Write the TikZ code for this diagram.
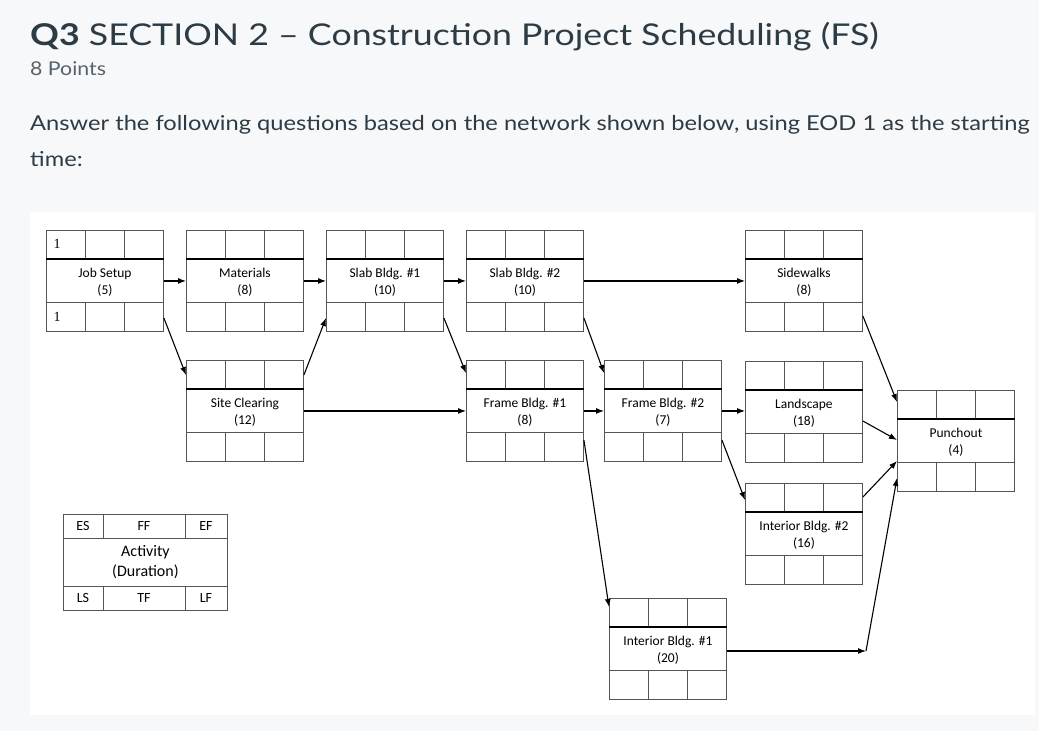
\documentclass[tikz,border=0pt]{standalone}
\usepackage{fontspec}
\setmainfont{Lato}
\newfontfamily\carl{Carlito}
\newfontfamily\tmsf{Liberation Serif}
\usetikzlibrary{calc,arrows.meta}
\definecolor{hdr}{HTML}{2D3B45}
\definecolor{bgc}{HTML}{F7F8FA}
\definecolor{cellc}{HTML}{555555}
\tikzset{
 act/.style={draw=cellc,line width=0.9pt,minimum width=117pt,minimum height=101pt,anchor=north west,inner sep=0pt,align=center,font=\carl\fontsize{13.5}{17}\selectfont,text depth=0pt},
 arr/.style={-{Latex[length=8pt,width=6pt]},line width=1.1pt,black},
}
\newcommand\act[5]{%
 \node[act] (#1) at (#2,#3) {#4\\(#5)};
 \draw[cellc,line width=0.9pt] ($(#1.north west)+(0,29)$) -- ($(#1.north east)+(0,29)$)
   ($(#1.north west)+(0,72)$) -- ($(#1.north east)+(0,72)$)
   ($(#1.north west)+(39,0)$) -- ($(#1.north west)+(39,29)$)
   ($(#1.north west)+(78,0)$) -- ($(#1.north west)+(78,29)$)
   ($(#1.north west)+(39,72)$) -- ($(#1.north west)+(39,101)$)
   ($(#1.north west)+(78,72)$) -- ($(#1.north west)+(78,101)$);
 \draw[black,line width=1.1pt] ($(#1.north west)+(0,29)$) -- ($(#1.north east)+(0,29)$);
}
\begin{document}
\begin{tikzpicture}[x=1pt,y=-1pt]
\fill[bgc] (0,0) rectangle (1039,731);
\useasboundingbox (0,0) rectangle (1039,731);
\fill[white] (30,212) rectangle (1035,715);
\node[anchor=base west,inner sep=0pt,text=hdr,font=\fontsize{30}{36}\selectfont] (title) at (30,45) {\scalebox{1.19}[1]{\textbf{Q3} SECTION 2 -- Construction Project Scheduling (FS)}};
\node[anchor=base west,inner sep=0pt,text=hdr!80,font=\fontsize{19}{22}\selectfont] (pts) at (30,75) {\scalebox{1.12}[1]{8 Points}};
\node[anchor=base west,inner sep=0pt,text=hdr,font=\fontsize{20.5}{24}\selectfont] (q1) at (30,130) {\scalebox{1.155}[1]{Answer the following questions based on the network shown below, using EOD 1 as the starting}};
\node[anchor=base west,inner sep=0pt,text=hdr,font=\fontsize{20.5}{24}\selectfont] (q2) at (30,166) {\scalebox{1.155}[1]{time:}};

\act{js}{46}{230}{Job Setup}{5}
\act{mat}{186}{230}{Materials}{8}
\act{sa}{326}{230}{Slab Bldg. \#1}{10}
\act{sb}{466}{230}{Slab Bldg. \#2}{10}
\act{sw}{745}{230}{Sidewalks}{8}
\act{sc}{186}{360}{Site Clearing}{12}
\act{fa}{466}{360}{Frame Bldg. \#1}{8}
\act{fb}{604}{360}{Frame Bldg. \#2}{7}
\act{ls}{745}{361}{Landscape}{18}
\act{pc}{897}{390}{Punchout}{4}
\act{ib}{745}{483}{Interior Bldg. \#2}{16}
\act{ia}{609}{598}{Interior Bldg. \#1}{20}
\node[font=\tmsf\fontsize{14}{15}\selectfont,anchor=west] (es1) at ($(js.north west)+(4,14)$) {1};
\node[font=\tmsf\fontsize{14}{15}\selectfont,anchor=west] (ls1) at ($(js.north west)+(4,87)$) {1};

\draw[arr] (js.east) -- (mat.west);
\draw[arr] (mat.east) -- (sa.west);
\draw[arr] (sa.east) -- (sb.west);
\draw[arr] (sb.east) -- (sw.west);
\draw[arr] (sc.east) -- (fa.west);
\draw[arr] (fa.east) -- (fb.west);
\draw[arr] (fb.east) -- (ls.west|-fb.east);
\draw[arr] ($(js.north east)+(0,88)$) -- ($(sc.north west)+(0,15)$);
\draw[arr] ($(sc.north east)+(0,15)$) -- ($(sa.north west)+(0,88)$);
\draw[arr] ($(sa.north east)+(0,88)$) -- ($(fa.north west)+(0,13)$);
\draw[arr] ($(sb.north east)+(0,88)$) -- ($(fb.north west)+(0,13)$);
\draw[arr] ($(fa.north east)+(0,80)$) -- ($(ia.north west)+(0,9)$);
\draw[arr] ($(fb.north east)+(0,80)$) -- ($(ib.north west)+(0,17)$);
\draw[arr] ($(sw.north east)+(0,86)$) -- ($(pc.north west)+(0,12)$);
\draw[arr] ($(ls.north east)+(0,60)$) -- ($(pc.north west)+(0,50)$);
\draw[arr] ($(ib.north east)+(0,14)$) -- ($(pc.north west)+(0,71)$);
\coordinate (bend) at (866,651);
\draw[arr] (ia.east|-bend) -- (bend);
\draw[arr] (bend) -- ($(pc.north west)+(0,88)$);

% legend
\node[draw=cellc,line width=0.9pt,minimum width=164pt,minimum height=96pt,anchor=north west,inner sep=0pt,align=center,font=\carl\fontsize{16}{20}\selectfont] (leg) at (63,514) {Activity\\(Duration)};
\draw[cellc,line width=0.9pt] (63,538) -- (227,538) (63,586) -- (227,586)
  (103,514) -- (103,538) (185,514) -- (185,538) (103,586) -- (103,610) (185,586) -- (185,610);
\begin{scope}[every node/.style={font=\carl\fontsize{14}{15}\selectfont,inner sep=0pt}]
\node (les) at (83,526) {ES};
\node (lff) at (144,526) {FF};
\node (lef) at (206,526) {EF};
\node (lls) at (83,598) {LS};
\node (ltf) at (144,598) {TF};
\node (llf) at (206,598) {LF};
\end{scope}
\end{tikzpicture}
\end{document}
